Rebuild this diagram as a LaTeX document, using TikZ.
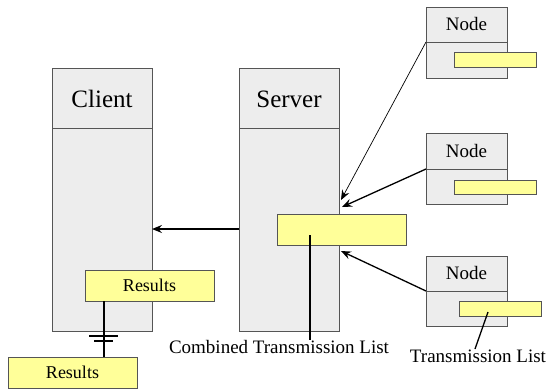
\documentclass[tikz,border=0pt]{standalone}
\usepackage{fontspec}
\setmainfont{Liberation Serif}
\usetikzlibrary{arrows.meta}
\definecolor{boxgray}{RGB}{237,237,237}
\definecolor{boxedge}{RGB}{85,85,85}
\definecolor{yel}{RGB}{255,255,153}
\begin{document}
\begin{tikzpicture}[x=1pt,y=-1pt,
  panel/.style={draw=boxedge,fill=boxgray,line width=0.8pt,anchor=north west,inner sep=0pt,outer sep=0pt},
  ybox/.style={draw=boxedge,fill=yel,line width=0.8pt,anchor=north west,inner sep=0pt,outer sep=0pt,font=\fontsize{18}{19}\selectfont},
  bigtxt/.style={font=\fontsize{25}{27}\selectfont,inner sep=0pt},
  smtxt/.style={font=\fontsize{19}{21}\selectfont,inner sep=0pt},
  conn/.style={line width=1.3pt},
  thinconn/.style={line width=0.7pt},
  tip/.style={-{Stealth[length=10pt,width=8pt,inset=3.5pt]}}]
\useasboundingbox (0,0) rectangle (549,389);
% Client
\node[panel,minimum width=100pt,minimum height=263pt] (client) at (52,68) {};
\draw[boxedge,line width=0.8pt] (52,128) -- (152,128);
\node[bigtxt] (clienttxt) at (102,99) {Client};
% Server
\node[panel,minimum width=100pt,minimum height=263pt] (server) at (239,68) {};
\draw[boxedge,line width=0.8pt] (239,128) -- (339,128);
\node[bigtxt] (servertxt) at (289,99) {Server};
% Nodes
\node[panel,minimum width=81pt,minimum height=71pt] (n1) at (426,7) {};
\draw[boxedge,line width=0.8pt] (426,42) -- (507,42);
\node[smtxt] (n1t) at (466.5,24) {Node};
\node[ybox,minimum width=82pt,minimum height=15pt] (y1) at (454,52) {};
\node[panel,minimum width=81pt,minimum height=71pt] (n2) at (426,133) {};
\draw[boxedge,line width=0.8pt] (426,169) -- (507,169);
\node[smtxt] (n2t) at (466.5,151) {Node};
\node[ybox,minimum width=82pt,minimum height=14pt] (y2) at (454,180) {};
\node[panel,minimum width=81pt,minimum height=70pt] (n3) at (426,256) {};
\draw[boxedge,line width=0.8pt] (426,291) -- (507,291);
\node[smtxt] (n3t) at (466.5,273) {Node};
\node[ybox,minimum width=82pt,minimum height=15pt] (y3) at (459,301) {};
% Combined list
\node[ybox,minimum width=129pt,minimum height=31pt] (comb) at (277,214) {};
% Results
\node[ybox,minimum width=129pt,minimum height=31pt] (res1) at (85,270) {Results};
\node[ybox,minimum width=129pt,minimum height=31pt] (res2) at (8,357) {Results};
% Labels
\node[smtxt] (comblbl) at (279,347) {Combined Transmission List};
\node[smtxt] (translbl) at (478,356) {Transmission List};
% Connectors
\coordinate (c1) at (341,200);
\coordinate (c2) at (342,207);
\coordinate (c3) at (341,251);
\draw[thinconn,tip] (426,42) -- (c1);
\draw[conn,tip] (426,169) -- (c2);
\draw[conn,tip] (426,291) -- (c3);
\draw[conn,tip] (server.west |- 0,229) -- (client.east |- 0,229);
\coordinate (cp) at (310,235);
\draw[conn] (cp) -- (cp |- comblbl.north);
\coordinate (tp) at (488,312);
\draw[conn] (tp) -- (475,349);
\draw[conn] (res1.south -| 104,0) -- (res2.north -| 104,0);
\draw[conn] (89,336) -- (118,336);
\draw[conn] (94,341) -- (113,341);
\end{tikzpicture}
\end{document}
